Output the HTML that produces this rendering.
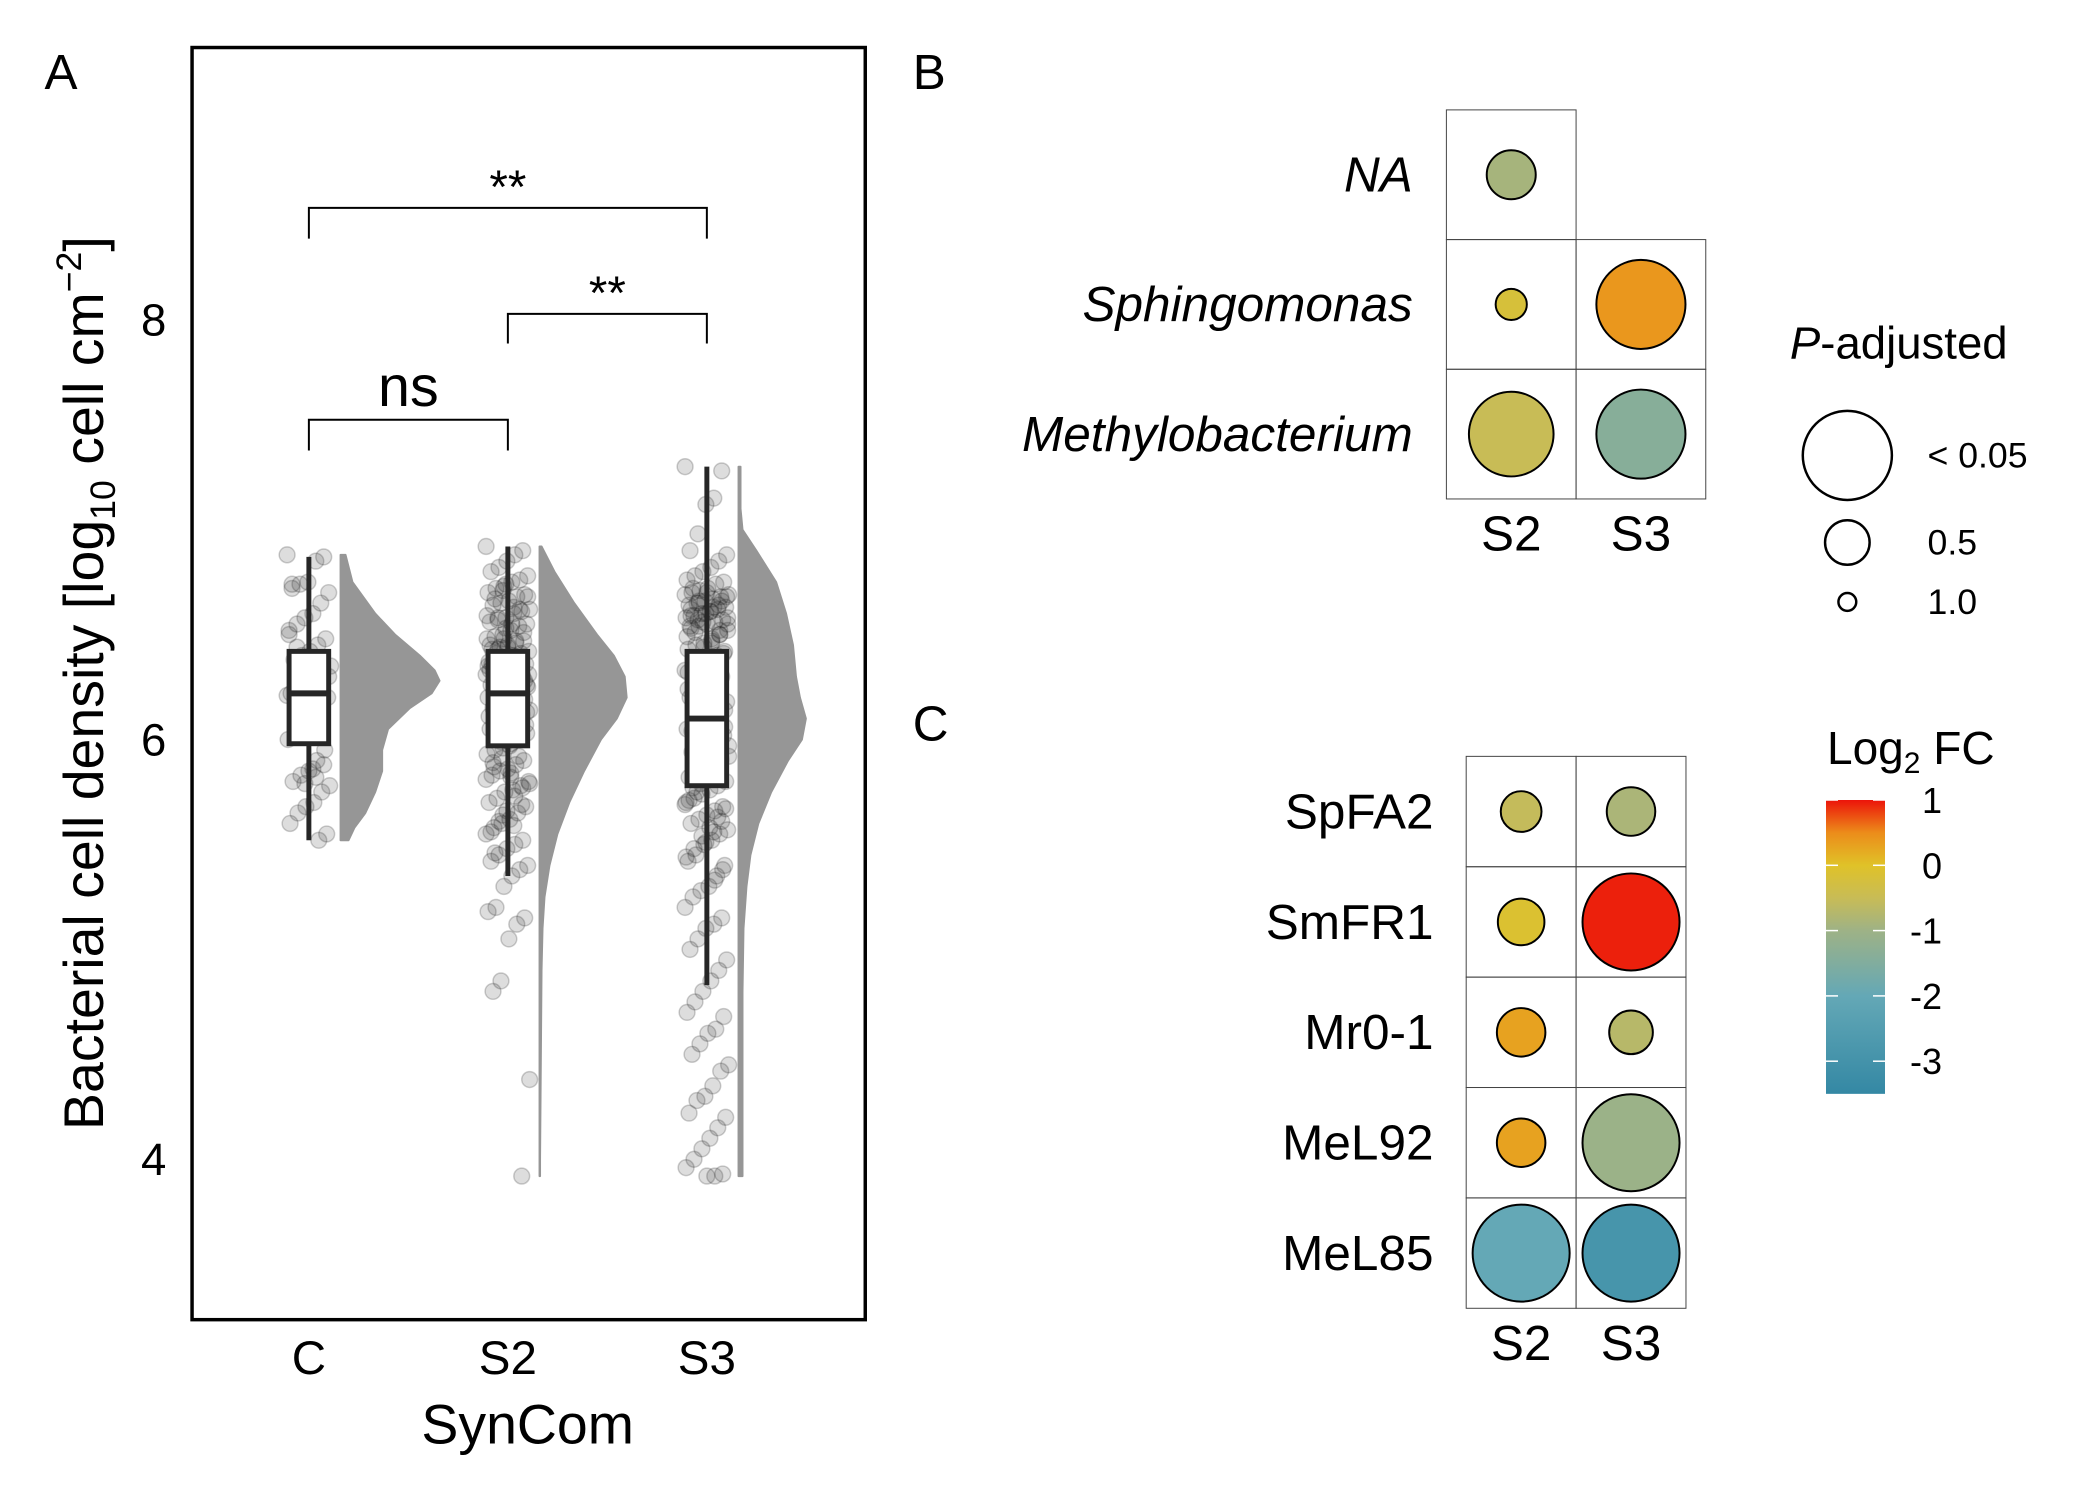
<!DOCTYPE html>
<html><head><meta charset="utf-8"><style>
html,body{margin:0;padding:0;background:#fff}
svg{display:block;font-family:"Liberation Sans",sans-serif}
</style></head><body>
<svg id="fig" width="2100" height="1500" viewBox="0 0 2100 1500" xmlns="http://www.w3.org/2000/svg">
<g transform="scale(0.99)">
<g id="panelA"></g>
<g id="panelB"></g>
<g id="panelC"></g>
</g>
<g id="colorbarG"></g>
</svg>
<script>
// ---------- Panel A data ----------
const groups = ["C","S2","S3"];
const boxQ1 = [5.98, 5.97, 5.78];
const boxMed = [6.22, 6.22, 6.10];
const boxQ3 = [6.42, 6.42, 6.42];
const whiskLo = [5.52, 5.35, 4.83];
const whiskHi = [6.87, 6.92, 7.30];
const yTicks = [4, 6, 8];
const pointsC = [6.88,6.87,6.85,6.75,6.74,6.72,6.7,6.65,6.6,6.58,6.55,6.5,6.48,6.45,6.42,6.4,6.38,6.35,6.33,6.3,6.28,6.25,6.22,6.2,6.18,6.15,6.1,6.05,6.0,5.95,5.9,5.85,5.83,5.8,5.78,5.75,5.7,5.68,5.65,5.6,5.55,5.52,6.32,6.27,6.24,6.21,5.88,5.82,6.36,6.12,6.74,6.3,6.26,5.86,5.79,6.44,6.52];
const pointsS2 = [6.92,6.9,6.88,6.85,6.82,6.8,6.78,6.76,6.75,6.73,6.72,6.7,6.69,6.68,6.66,6.65,6.64,6.62,6.61,6.6,6.58,6.57,6.56,6.55,6.54,6.52,6.5,6.49,6.48,6.47,6.46,6.45,6.44,6.43,6.42,6.41,6.4,6.39,6.38,6.37,6.36,6.35,6.34,6.33,6.32,6.31,6.3,6.29,6.28,6.27,6.26,6.25,6.24,6.23,6.22,6.21,6.2,6.19,6.18,6.17,6.16,6.15,6.14,6.12,6.1,6.08,6.06,6.05,6.03,6.0,5.98,5.96,5.95,5.93,5.9,5.88,5.86,5.85,5.83,5.8,5.78,5.76,5.75,5.72,5.7,5.68,5.65,5.62,5.6,5.58,5.55,5.52,5.5,5.48,5.45,5.42,5.4,5.38,5.35,5.3,5.2,5.18,5.15,5.12,5.05,4.85,4.8,4.38,3.92,6.63,6.53,6.43,6.33,6.13,5.92,5.82,
6.71,6.67,6.59,6.51,6.47,6.44,6.39,6.36,6.31,6.27,6.23,6.19,6.16,6.11,6.07,6.02,5.97,5.91,5.87,5.81,5.77,5.73,5.66,5.61,5.56,6.68,6.62,6.55,6.48,6.41,6.35,6.28,6.2,6.09,5.99,5.89,5.79,5.69,5.59,6.74,6.58,6.45,6.26,6.04,5.84,5.64,5.46];
const pointsS3 = [7.3,7.28,7.15,7.12,6.98,6.9,6.88,6.85,6.82,6.8,6.78,6.76,6.75,6.74,6.72,6.71,6.7,6.69,6.68,6.67,6.66,6.65,6.64,6.63,6.62,6.61,6.6,6.59,6.58,6.57,6.56,6.55,6.54,6.53,6.52,6.5,6.48,6.46,6.45,6.43,6.42,6.4,6.38,6.36,6.35,6.33,6.3,6.28,6.25,6.22,6.2,6.18,6.15,6.12,6.1,6.08,6.05,6.02,6.0,5.98,5.96,5.94,5.92,5.9,5.88,5.86,5.84,5.82,5.8,5.78,5.76,5.74,5.72,5.7,5.68,5.66,5.64,5.62,5.6,5.57,5.55,5.52,5.5,5.45,5.42,5.4,5.35,5.3,5.28,5.25,5.2,5.15,5.12,5.1,5.05,5.0,4.95,4.9,4.85,4.8,4.75,4.7,4.68,4.62,4.6,4.55,4.5,4.45,4.42,4.35,4.3,4.28,4.22,4.2,4.15,4.1,4.05,4.0,3.96,3.93,3.92,3.92,6.66,6.62,6.58,6.52,6.47,6.44,6.38,6.32,6.06,5.95,5.87,5.79,
6.72,6.69,6.66,6.63,6.6,6.57,6.54,6.68,6.64,6.61,6.56,6.51,6.49,6.41,6.34,6.27,6.16,6.04,5.97,5.91,5.85,5.81,5.75,5.71,5.67,5.63,5.58,5.54,5.48,5.44,5.38,5.33,6.7,6.65,6.59,6.55,6.5,6.46,6.39,6.31,6.24,6.14,5.99,5.93,5.83,5.77,5.69,5.61,5.56,5.51];
const violinLevels = [
 [6.88,6.75,6.6,6.5,6.4,6.33,6.28,6.22,6.15,6.05,5.95,5.85,5.75,5.65,5.58,5.52],
 [6.92,6.8,6.65,6.5,6.4,6.3,6.2,6.1,6.0,5.85,5.7,5.55,5.4,5.25,5.1,4.9,4.6,4.3,4.0,3.92],
 [7.3,7.1,7.0,6.9,6.75,6.6,6.45,6.3,6.2,6.1,6.0,5.9,5.75,5.6,5.45,5.3,5.1,4.8,4.5,4.2,3.92]];
const violinDens = [
 [0.05,0.12,0.35,0.55,0.8,0.95,1.0,0.92,0.7,0.48,0.42,0.42,0.35,0.25,0.14,0.08],
 [0.02,0.15,0.35,0.58,0.75,0.86,0.88,0.78,0.62,0.45,0.3,0.18,0.1,0.05,0.03,0.02,0.015,0.01,0.005,0.005],
 [0.02,0.02,0.04,0.18,0.38,0.48,0.55,0.58,0.62,0.68,0.64,0.5,0.33,0.2,0.12,0.08,0.05,0.04,0.04,0.04,0.04]];
// ---------- Panel B data ----------
const bRows = ["NA","Sphingomonas","Methylobacterium"];
const bCols = ["S2","S3"];
const bFC = [[-0.9,null],[-0.2,0.4],[-0.5,-1.4]];
const bSize = [[0.55,null],[0.35,1.0],[0.95,1.0]];
const pLegendLabels = ["< 0.05","0.5","1.0"];
const pLegendSize = [1.0,0.5,0.2];
// ---------- Panel C data ----------
const cRows = ["SpFA2","SmFR1","Mr0-1","MeL92","MeL85"];
const cCols = ["S2","S3"];
const cFC = [[-0.55,-0.85],[-0.1,0.95],[0.3,-0.7],[0.3,-1.05],[-2.0,-2.9]];
const cSize = [[0.42,0.5],[0.48,1.0],[0.5,0.45],[0.5,1.0],[1.0,1.0]];
const cbTicks = [1,0,-1,-2,-3];

const NS="http://www.w3.org/2000/svg";
function mk(parent,tag,attrs,text){const e=document.createElementNS(NS,tag);for(const k in attrs)e.setAttribute(k,attrs[k]);if(text!==undefined)e.textContent=text;parent.appendChild(e);return e;}

const cStops=[[-3.5,[52,136,164]],[-2,[100,168,182]],[-1,[158,178,134]],[-0.5,[200,188,86]],[0,[224,194,40]],[0.5,[236,140,26]],[1,[236,20,10]]];
function fcColor(v){if(v<=cStops[0][0])return "rgb("+cStops[0][1]+")";for(let i=1;i<cStops.length;i++){if(v<=cStops[i][0]){const a=cStops[i-1],b=cStops[i];const t=(v-a[0])/(b[0]-a[0]);const c=a[1].map((x,j)=>Math.round(x+(b[1][j]-x)*t));return "rgb("+c.join(",")+")";}}return "rgb("+cStops[cStops.length-1][1]+")";}

// ---------- Panel A ----------
const A=document.getElementById("panelA");
const yA=v=>747-(v-6)*212;
const xA=i=>312+i*201;
let t=mk(A,"text",{x:45,y:90,"font-size":50});t.textContent="A";

yTicks.forEach(v=>{const e=mk(A,"text",{x:168,y:yA(v)+16,"font-size":46,"text-anchor":"end"},String(v));
 });
const yt=mk(A,"text",{transform:"translate(104,690) rotate(-90)","font-size":56,"text-anchor":"middle"});

yt.innerHTML='Bacterial cell density [log<tspan font-size="36" dy="12">10</tspan><tspan dy="-12"> cell cm</tspan><tspan font-size="36" dy="-22">−2</tspan><tspan dy="22">]</tspan>';
const allPts=[pointsC,pointsS2,pointsS3];
groups.forEach((g,i)=>{
 const cx=xA(i);
 const lv=violinLevels[i],dn=violinDens[i],base=cx+32;
 let d="M"+base+","+yA(lv[0]);
 lv.forEach((v,k)=>{d+=" L"+(base+dn[k]*100)+","+yA(v);});
 d+=" L"+base+","+yA(lv[lv.length-1])+" Z";
 const vp=mk(A,"path",{d:d,fill:"#969696",stroke:"#969696","stroke-width":2,"stroke-linejoin":"round"});
 
 const pg=mk(A,"g",{});
 
 allPts[i].forEach((v,k)=>{const off=((k*37)%45)-22;
  const c=mk(pg,"circle",{cx:cx+off,cy:yA(v),r:8,fill:"rgba(30,30,30,0.15)",stroke:"rgba(30,30,30,0.22)","stroke-width":1.5});
  });
 const w=mk(A,"line",{x1:cx,x2:cx,y1:yA(whiskLo[i]),y2:yA(whiskHi[i]),stroke:"#262626","stroke-width":5});
 
 const b=mk(A,"rect",{x:cx-20,y:yA(boxQ3[i]),width:40,height:yA(boxQ1[i])-yA(boxQ3[i]),fill:"#fff",stroke:"#262626","stroke-width":5});
 
 const m=mk(A,"line",{x1:cx-20,x2:cx+20,y1:yA(boxMed[i]),y2:yA(boxMed[i]),stroke:"#262626","stroke-width":6});
 
 const xl=mk(A,"text",{x:cx,y:1388,"font-size":48,"text-anchor":"middle"},g);
 
});
const frame=mk(A,"rect",{x:194,y:48,width:680,height:1285,fill:"none",stroke:"#000","stroke-width":3.5});

const xt=mk(A,"text",{x:533,y:1458,"font-size":56,"text-anchor":"middle"},"SynCom");

[[0,2,210,241,"**",205,48],[1,2,317,347,"**",312,48],[0,1,424,455,"ns",410,58]].forEach(br=>{
 const x1=xA(br[0]),x2=xA(br[1]);
 const p=mk(A,"path",{d:`M${x1},${br[3]} L${x1},${br[2]} L${x2},${br[2]} L${x2},${br[3]}`,fill:"none",stroke:"#000","stroke-width":2});
 
 const s=mk(A,"text",{x:(x1+x2)/2,y:br[5],"font-size":br[6],"text-anchor":"middle"},br[4]);
 
});

// ---------- Panel B ----------
const B=document.getElementById("panelB");
t=mk(B,"text",{x:922,y:90,"font-size":50},"B");

const bx0=1461,bw=131,by0=111,bh=131;
bRows.forEach((r,i)=>{
 const lab=mk(B,"text",{x:1427,y:by0+i*bh+bh/2+17,"font-size":50,"font-style":"italic","text-anchor":"end"},r);
 
 bCols.forEach((c,j)=>{
  if(bFC[i][j]===null)return;
  const cell=mk(B,"rect",{x:bx0+j*bw,y:by0+i*bh,width:bw,height:bh,fill:"none",stroke:"#444","stroke-width":1});
  
  const ci=mk(B,"circle",{cx:bx0+j*bw+bw/2,cy:by0+i*bh+bh/2,r:45*bSize[i][j],fill:fcColor(bFC[i][j]),stroke:"#000","stroke-width":2});
  
 });
});
bCols.forEach((c,j)=>{const e=mk(B,"text",{x:bx0+j*bw+bw/2,y:556,"font-size":50,"text-anchor":"middle"},c);
 });
const pt=mk(B,"text",{x:1808,y:362,"font-size":46});
pt.innerHTML='<tspan font-style="italic">P</tspan>-adjusted';

const legY=[460,548,608];
pLegendLabels.forEach((l,k)=>{
 const c=mk(B,"circle",{cx:1866,cy:legY[k],r:45*pLegendSize[k],fill:"#fff",stroke:"#000","stroke-width":2.5});
 
 const e=mk(B,"text",{x:1947,y:legY[k]+12,"font-size":36},l);
 
});

// ---------- Panel C ----------
const C=document.getElementById("panelC");
t=mk(C,"text",{x:922,y:748,"font-size":50},"C");

const cx0=1481,cw=111,cy0=764,ch=111.5;
cRows.forEach((r,i)=>{
 const lab=mk(C,"text",{x:1448,y:cy0+i*ch+ch/2+17,"font-size":50,"text-anchor":"end"},r);
 
 cCols.forEach((c,j)=>{
  const cell=mk(C,"rect",{x:cx0+j*cw,y:cy0+i*ch,width:cw,height:ch,fill:"none",stroke:"#444","stroke-width":1});
  
  const ci=mk(C,"circle",{cx:cx0+j*cw+cw/2,cy:cy0+i*ch+ch/2,r:49*cSize[i][j],fill:fcColor(cFC[i][j]),stroke:"#000","stroke-width":2});
  
 });
});
cCols.forEach((c,j)=>{const e=mk(C,"text",{x:cx0+j*cw+cw/2,y:1374,"font-size":50,"text-anchor":"middle"},c);
 });

// colorbar (unscaled coordinates)
const CB=document.getElementById("colorbarG");
const defs=mk(CB,"defs",{});
const lg=mk(defs,"linearGradient",{id:"cb",x1:0,y1:1,x2:0,y2:0});
const cbTop=1,cbBot=-3.5;
cStops.forEach(s=>{mk(lg,"stop",{offset:(s[0]-cbBot)/(cbTop-cbBot),"stop-color":"rgb("+s[1]+")"});});
const yCB=v=>800+(1-v)*65.3;
const cbr=mk(CB,"rect",{x:1826,y:yCB(cbTop),width:59,height:yCB(cbBot)-yCB(cbTop),fill:"url(#cb)"});

cbTicks.forEach(v=>{
 mk(CB,"line",{x1:1826,x2:1838,y1:yCB(v),y2:yCB(v),stroke:"#fff","stroke-width":1.5});
 mk(CB,"line",{x1:1873,x2:1885,y1:yCB(v),y2:yCB(v),stroke:"#fff","stroke-width":1.5});
 const e=mk(CB,"text",{x:v<0?1910:1922,y:yCB(v)+13,"font-size":36},String(v));
 
});
const ct=mk(CB,"text",{x:1827,y:764,"font-size":46});
ct.innerHTML='Log<tspan font-size="30" dy="9">2</tspan><tspan dy="-9"> FC</tspan>';

</script>
</body></html>
